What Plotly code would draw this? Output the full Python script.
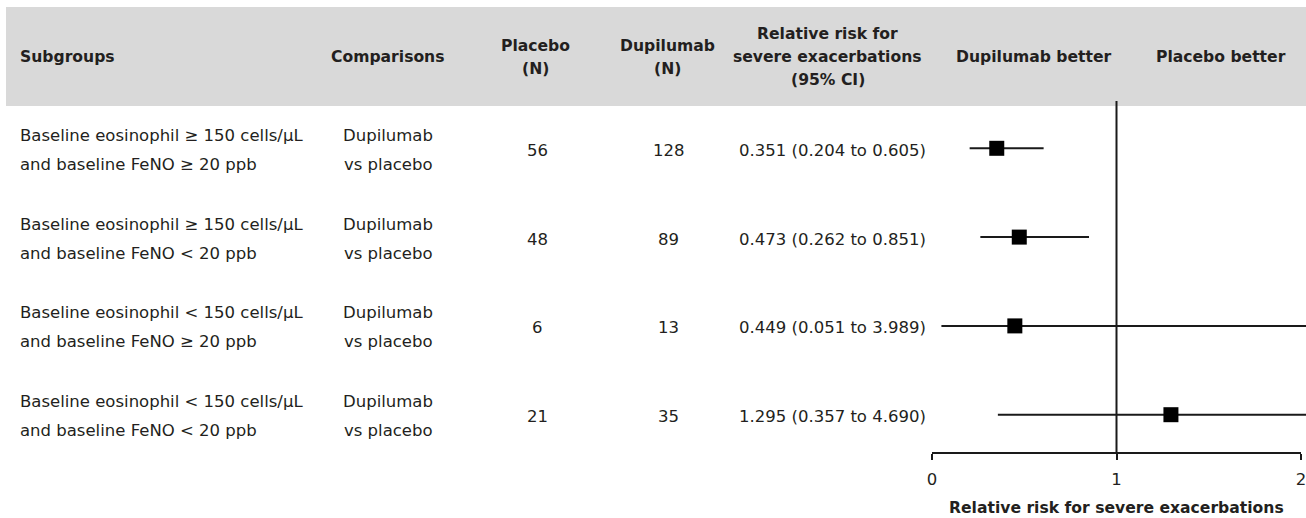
import plotly.graph_objects as go

# ---- table and forest data -------------------------------------------------
subgroup_line1 = [
    "Baseline eosinophil ≥ 150 cells/μL",
    "Baseline eosinophil ≥ 150 cells/μL",
    "Baseline eosinophil < 150 cells/μL",
    "Baseline eosinophil < 150 cells/μL",
]
subgroup_line2 = [
    "and baseline FeNO ≥ 20 ppb",
    "and baseline FeNO < 20 ppb",
    "and baseline FeNO ≥ 20 ppb",
    "and baseline FeNO < 20 ppb",
]
comparison_line1 = ["Dupilumab", "Dupilumab", "Dupilumab", "Dupilumab"]
comparison_line2 = ["vs placebo", "vs placebo", "vs placebo", "vs placebo"]
placebo_n = [56, 48, 6, 21]
dupilumab_n = [128, 89, 13, 35]
rel_risk = [0.351, 0.473, 0.449, 1.295]
ci_low = [0.204, 0.262, 0.051, 0.357]
ci_high = [0.605, 0.851, 3.989, 4.690]
x_ticks = [0, 1, 2]
axis_title = "Relative risk for severe exacerbations"

# ---- page geometry -----------------------------------------------------------
W, H = 1306, 518
PX_X0, PX_X2 = 932, 1301          # pixel positions of x = 0 and x = 2
PLOT_LEFT = 920
ROW0_PX, ROW_STEP = 148.3, 88.8   # centre of first row and row spacing
PLOT_TOP, PLOT_BOTTOM = 101, 453

scale = (PX_X2 - PX_X0) / 2.0
x_range = [(PLOT_LEFT - PX_X0) / scale, (W - PX_X0) / scale]
y_range = [(PLOT_BOTTOM - ROW0_PX) / ROW_STEP, (PLOT_TOP - ROW0_PX) / ROW_STEP]

FONT = "DejaVu Sans"
TXT = "#231f20"
REG = 16.5
BOLD = 15.6


def px(x):
    return x / W


def py(y):
    return 1 - y / H


def esc(s):
    return s.replace("<", "&lt;")


rows = list(range(len(rel_risk)))

fig = go.Figure()

# confidence-interval whiskers
ci_x, ci_y = [], []
for r, lo, hi in zip(rows, ci_low, ci_high):
    ci_x += [lo, hi, None]
    ci_y += [r, r, None]
fig.add_trace(go.Scatter(
    x=ci_x, y=ci_y, mode="lines",
    line=dict(color="#1a1a1a", width=2),
    hoverinfo="skip", showlegend=False,
))

# point estimates
fig.add_trace(go.Scatter(
    x=rel_risk, y=rows, mode="markers",
    marker=dict(symbol="square", size=15, color="#000000", line=dict(width=0)),
    showlegend=False,
))

shapes = [
    # header band
    dict(type="rect", xref="paper", yref="paper",
         x0=px(6), x1=1, y0=py(106), y1=py(7),
         fillcolor="#d9d9d9", line=dict(width=0), layer="below"),
    # line of no effect
    dict(type="line", xref="x", yref="y domain", x0=1, x1=1, y0=0, y1=1,
         line=dict(color="#1a1a1a", width=2)),
    # x axis baseline between first and last tick
    dict(type="line", xref="x", yref="y domain",
         x0=min(x_ticks), x1=max(x_ticks), y0=0, y1=0,
         line=dict(color="#1a1a1a", width=2)),
]

annotations = []


def note(text, x, y, xanchor="center", bold=False, yref="paper", yshift=0):
    annotations.append(dict(
        text=f"<b>{text}</b>" if bold else text,
        x=x, y=y, xref="paper", yref=yref, xanchor=xanchor, yanchor="middle",
        yshift=yshift, showarrow=False,
        font=dict(family=FONT, size=BOLD if bold else REG, color=TXT),
    ))


# header
note("Subgroups", px(18), py(57), xanchor="left", bold=True)
note("Comparisons", px(388), py(57), bold=True)
note("Placebo", px(535), py(46), bold=True)
note("(N)", px(535), py(69), bold=True)
note("Dupilumab", px(667), py(46), bold=True)
note("(N)", px(667), py(69), bold=True)
note("Relative risk for", px(828), py(34), bold=True)
note("severe exacerbations", px(828), py(57), bold=True)
note("(95% CI)", px(828), py(80), bold=True)
note("Dupilumab better", px(1034), py(57), bold=True)
note("Placebo better", px(1221), py(57), bold=True)

# table body
for r in rows:
    note(esc(subgroup_line1[r]), px(18), r, xanchor="left", yref="y", yshift=13)
    note(esc(subgroup_line2[r]), px(18), r, xanchor="left", yref="y", yshift=-16)
    note(comparison_line1[r], px(388), r, yref="y", yshift=13)
    note(comparison_line2[r], px(388), r, yref="y", yshift=-16)
    note(str(placebo_n[r]), px(537), r, yref="y", yshift=-2)
    note(str(dupilumab_n[r]), px(669), r, yref="y", yshift=-2)
    note(f"{rel_risk[r]:.3f} ({ci_low[r]:.3f} to {ci_high[r]:.3f})",
         px(737), r, xanchor="left", yref="y", yshift=-2)

# x axis title
annotations.append(dict(
    text=f"<b>{axis_title}</b>", x=1, xref="x", y=py(508), yref="paper",
    xanchor="center", yanchor="middle", showarrow=False,
    font=dict(family=FONT, size=BOLD, color=TXT),
))

fig.update_layout(
    width=W, height=H,
    margin=dict(l=0, r=0, t=0, b=0),
    paper_bgcolor="white", plot_bgcolor="rgba(0,0,0,0)",
    shapes=shapes, annotations=annotations,
    showlegend=False,
    xaxis=dict(
        domain=[px(PLOT_LEFT), 1], range=x_range,
        tickvals=x_ticks, ticktext=[str(t) for t in x_ticks],
        ticks="outside", ticklen=6, tickwidth=2, tickcolor="#1a1a1a",
        ticklabelstandoff=5, ticklabeloverflow="allow",
        tickfont=dict(family=FONT, size=REG, color=TXT),
        showline=False, showgrid=False, zeroline=False, fixedrange=True,
    ),
    yaxis=dict(
        domain=[py(PLOT_BOTTOM), py(PLOT_TOP)], range=y_range,
        visible=False, showgrid=False, zeroline=False, fixedrange=True,
    ),
)

fig.write_html("out.html")
